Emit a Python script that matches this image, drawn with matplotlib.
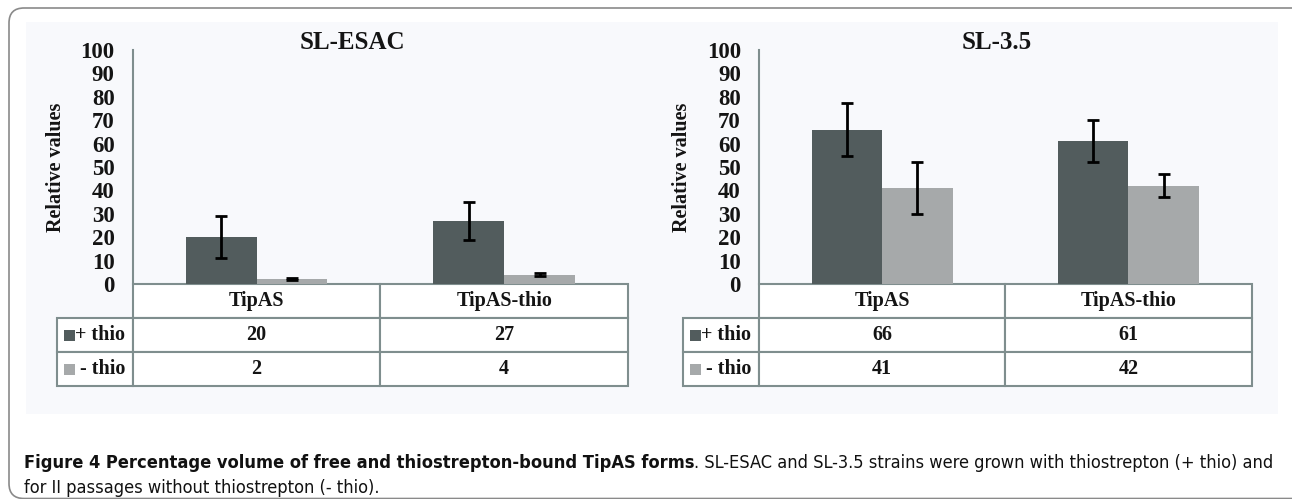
import matplotlib.pyplot as plt
from matplotlib.patches import FancyBboxPatch, Rectangle
from matplotlib.table import Table
from matplotlib import font_manager as fm

# data
categories = ['TipAS', 'TipAS-thio']
series = ['+ thio', '- thio']
yticks = [0, 10, 20, 30, 40, 50, 60, 70, 80, 90, 100]

esac_plus = [20, 27]
esac_minus = [2, 4]
esac_plus_err = [9, 8]
esac_minus_err = [0.4, 0.5]

sl35_plus = [66, 61]
sl35_minus = [41, 42]
sl35_plus_err = [11.5, 9]
sl35_minus_err = [11, 5]

dark = '#525c5d'
light = '#a6a9aa'
line_col = '#7f8e8e'
txt_col = '#141414'
serif = 'Liberation Serif'

W, H = 1292, 499
fig = plt.figure(figsize=(W / 100, H / 100), dpi=100, facecolor='white')

# full-figure axes in pixel coordinates for frame, panel and caption
bg = fig.add_axes([0, 0, 1, 1], zorder=0)
bg.set_xlim(0, W)
bg.set_ylim(H, 0)
bg.axis('off')
bg.add_patch(FancyBboxPatch((9, 8), 1300, 490.5, boxstyle='round,pad=0,rounding_size=15',
                            fc='white', ec='#8a8a8a', lw=1.2))
bg.add_patch(Rectangle((26, 22), 1252, 392, fc='#f8f9fc', ec='none'))


def px_rect(left, top, right, bottom):
    return [left / W, (H - bottom) / H, (right - left) / W, (bottom - top) / H]


def draw_panel(left, right, title, title_x, plus, minus, plus_err, minus_err):
    top, zero = 50, 284
    ax = fig.add_axes(px_rect(left, top, right, zero), zorder=2)
    ax.set_facecolor('none')
    x = list(range(len(categories)))
    w = 0.286
    ekw = dict(ecolor='black', elinewidth=2, capsize=4.5, capthick=2)
    ax.bar([i - w / 2 for i in x], plus, w, color=dark, yerr=plus_err, error_kw=ekw, zorder=3)
    ax.bar([i + w / 2 for i in x], minus, w, color=light, yerr=minus_err, error_kw=ekw, zorder=3)
    ax.set_xlim(-0.5, len(categories) - 0.5)
    ax.set_ylim(0, 100)
    ax.set_xticks([])
    ax.set_yticks(yticks)
    ax.tick_params(axis='y', length=0, pad=13)
    for lab in ax.get_yticklabels():
        lab.set_fontfamily(serif)
        lab.set_fontweight('bold')
        lab.set_fontsize(16.5)
        lab.set_color(txt_col)
    for s in ['top', 'right', 'bottom']:
        ax.spines[s].set_visible(False)
    ax.spines['left'].set_color(line_col)
    ax.spines['left'].set_linewidth(1.5)
    ax.set_ylabel('Relative values', fontfamily=serif, fontweight='bold', fontsize=14.5, color=txt_col)
    width_px = right - left
    ax.yaxis.set_label_coords(-67 / width_px, 0.5)
    ax.text(title_x, 1.03, title, transform=ax.transAxes, ha='center', va='center',
            fontfamily=serif, fontweight='bold', fontsize=18, color=txt_col)

    # data table under the axis
    tab_left = left - 76
    lab_w = 76 / width_px
    col_w = 1.0 / len(categories)
    tab_h = (386 - zero) / (zero - top)
    tbl = Table(ax, bbox=[-lab_w, -tab_h, 1 + lab_w, tab_h])
    rows = [[''] + categories,
            [series[0]] + [str(v) for v in plus],
            [series[1]] + [str(v) for v in minus]]
    for r, row in enumerate(rows):
        for c, val in enumerate(row):
            cell = tbl.add_cell(r, c, width=lab_w if c == 0 else col_w, height=1 / 3,
                                text=val, loc='right' if c == 0 else 'center',
                                facecolor='white', edgecolor=line_col)
            cell.set_linewidth(1.5)
            cell.get_text().set_fontfamily(serif)
            cell.get_text().set_fontweight('bold')
            cell.get_text().set_fontsize(14.5)
            cell.get_text().set_color(txt_col)
            if r == 0 and c == 0:
                cell.visible_edges = ''
                cell.set_facecolor('none')
    tbl.auto_set_font_size(False)
    ax.add_table(tbl)
    # legend keys in the row labels
    for i, colr in enumerate([dark, light]):
        yc = 335.5 + i * 33.5
        ax.add_patch(Rectangle((tab_left + 7, yc - 5.5), 11, 11, fc=colr, ec='none',
                               transform=bg.transData, clip_on=False, zorder=10))
    return ax


draw_panel(132.7, 628, 'SL-ESAC', 0.443, esac_plus, esac_minus, esac_plus_err, esac_minus_err)
draw_panel(759, 1251.5, 'SL-3.5', 0.483, sl35_plus, sl35_minus, sl35_plus_err, sl35_minus_err)

# caption, in a narrow sans if one is installed
fonts = fm.fontManager.ttflist
names = {f.name for f in fonts}
cap_kw = dict(fontfamily='Lato')
if any(f.name == 'DejaVu Sans' and f.stretch == 'condensed' for f in fonts):
    cap_kw = dict(fontfamily='DejaVu Sans', fontstretch='condensed')
else:
    for nm in ['Roboto Condensed', 'Open Sans Condensed', 'Liberation Sans Narrow']:
        if nm in names:
            cap_kw = dict(fontfamily=nm)
            break

bold_part = 'Figure 4 Percentage volume of free and thiostrepton-bound TipAS forms'
rest1 = '. SL-ESAC and SL-3.5 strains were grown with thiostrepton (+ thio) and'
line2 = 'for II passages without thiostrepton (- thio).'

size = 13
x0, y1, y2 = 24, 468, 493
t1 = bg.text(x0, y1, bold_part, fontweight='bold', fontsize=size,
             color='#111111', va='baseline', ha='left', **cap_kw)
t2 = bg.text(0, y1, rest1, fontsize=size, color='#111111', va='baseline', ha='left', **cap_kw)
inv = bg.transData.inverted()
for _ in range(3):
    fig.canvas.draw()
    t2.set_x(inv.transform((t1.get_window_extent().x1, 0))[0])
    fig.canvas.draw()
    xend = inv.transform((t2.get_window_extent().x1, 0))[0]
    size = size * (1274 - x0) / (xend - x0)
    t1.set_fontsize(size)
    t2.set_fontsize(size)
fig.canvas.draw()
t2.set_x(inv.transform((t1.get_window_extent().x1, 0))[0])
bg.text(x0, y2, line2, fontsize=size, color='#111111', va='baseline', ha='left', **cap_kw)

fig.savefig('out.png', dpi=100)
